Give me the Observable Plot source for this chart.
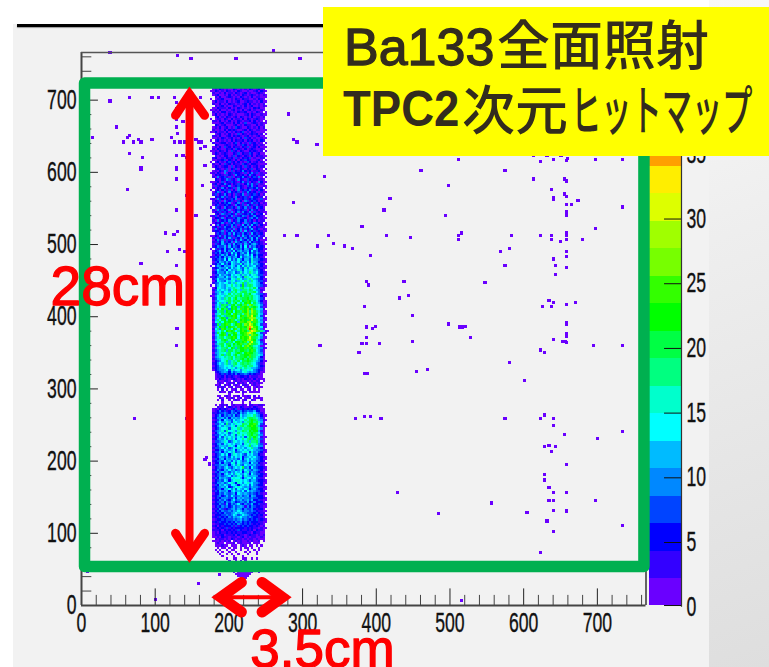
<!DOCTYPE html>
<html>
<head>
<meta charset="utf-8">
<script src="https://cdn.jsdelivr.net/npm/d3@7"></script>
<script src="https://cdn.jsdelivr.net/npm/@observablehq/plot@0.6"></script>
<style>
html,body{margin:0;padding:0;background:#fff;}
#page{position:relative;width:769px;height:667px;overflow:hidden;background:#fff;}
#panel{position:absolute;left:13px;top:24px;width:696px;height:643px;background:#f2f2f2;}
#side{position:absolute;left:709px;top:0;width:60px;height:667px;background:linear-gradient(160deg,#f8f8f8 0%,#eeeeee 35%,#dedede 100%);}
#rule{position:absolute;left:17px;top:24px;width:310px;height:3px;background:#000;box-shadow:0 1px 1px #999;}
#page svg{position:absolute;background:transparent;max-width:none;}
#title{position:absolute;left:323px;top:7px;width:446px;height:149px;background:#ffff00;color:#332c1e;}
#title span{position:absolute;white-space:nowrap;line-height:1;}
.lat{font-family:"Liberation Sans",sans-serif;font-size:52px;-webkit-text-stroke:1.3px #332c1e;}
.cjk{font-family:"Noto Sans CJK JP",sans-serif;font-size:53px;font-weight:500;}
</style>
</head>
<body>
<div id="page">
  <div id="panel"></div><div id="side"></div><div id="rule"></div>
  <div id="bar"></div><div id="main"></div>
  <div id="title">
    <span class="lat" style="left:20px;top:77px;font-size:50px;font-weight:bold;-webkit-text-stroke:0;transform:scaleX(0.91);transform-origin:left top;">TPC2</span>
    <span class="lat" style="left:21px;top:14px;">Ba133</span>
    <span class="cjk" style="left:174px;top:9px;">全面照射</span>
    <span class="cjk" style="left:139px;top:74px;">次元</span>
    <span class="cjk" style="left:248px;top:74px;font-size:54px;transform:scaleX(0.56);transform-origin:left top;">ヒットマップ</span>
  </div>
</div>
<script>
// Colour levels of the histogram (upper edge of each band, in hits per bin)
const levelEdges = [2.2,4.33,6.45,8.58,10.7,12.83,14.95,17.08,19.2,21.33,23.45,25.58,27.7,29.83,31.95,34.08,36.2,38.33];
const levelColors = ["#6a00ff","#3300ff","#0000ff","#0044ff","#0088ff","#00bbff","#00ffff","#00ffcc","#00ff80","#00ff44","#00ff00","#33ff00","#77ff00","#a0ff00","#ddff00","#ffee00","#ffa000","#ff3000","#ff0000"];

const xTicks = [0,100,200,300,400,500,600,700];
const yTicks = [0,100,200,300,400,500,600,700];
const xMinor = [20,40,60,80,120,140,160,180,220,240,260,280,320,340,360,380,420,440,460,480,520,540,560,580,620,640,660,680,720,740,760];
const yMinor = [20,40,60,80,120,140,160,180,220,240,260,280,320,340,360,380,420,440,460,480,520,540,560,580,620,640,660,680,720,740,760];
const barTicks = [5,10,15,20,25,30,35];

// Main band of the hit map. One string per row from the top, one character per
// column: the colour level of that bin (0 = empty).
const bandLeft = 175, bandTop = 717, binW = 3.1, binH = 3;
const bandRows = `
01213212113212121321231100
11321213212132112112313210
02112131221321231211232100
01231121312121321232121210
00213112321213212131221110
10122311121321322112132100
01312213121231123221213110
02113121322121231312121200
00212312113212131231121210
01132221312132121213231100
11213112123121312312112100
02121331212132231121321010
01312121321211123132112110
00231213212313212131221200
10122132131221313212321100
02213121312132122313121010
01112312213131241123212110
00321231112312132211312100
01213123121432113212131200
02112131323211231321221110
11312213121323412132111100
00123121312141321232312010
02213112313232123121231100
01121321231213142312112110
10231212131322313231213200
02112331213413121423121010
00321123212312431213212100
01213142313221324123131110
02132113231432131232112100
11213213142313211323212010
01321232113241322431231100
00212133124132132131322110
02311213231421323412112200
01122341321313243211231010
10231213423131214312312100
02113142313221432133211110
01321233141323142312312200
00232124132413213241321010
01213254141323532312231100
12132151324332141352412110
01323214321532313523112200
02152342141323532134251010
00321325423153214323312100
11231413243213524132153110
02312352313242135252412100
01423123512343214352311210
02132531324153213243522010
10231342413152343512313100
01354132532341425323142110
02413253131423514234231200
00323524231532342153322010
12152313243512342343214110
01324152342143154234312100
02231343512351423252431210
01342234321532415324132110
10423153243152352413523100
02152432512343241352312200
01324243151352532514232110
00231542432514234353123010
12413224351423541325332100
01332513224354231453522110
02152343513253352431312200
01323521435243154235432010
10253134253412635263413110
02314253351424352631322100
01523243425135243462341210
02332514362435162434232110
00243413526342534163423100
11325253414352643524352200
02413253641435253463622010
01352514243526435263531110
02243624351643452634232100
01423643526345264356432110
02354462635436372645323200
10424363472545365247533110
01346263547356456374532100
02435345274635647354642210
01324646354735467473533110
12435364645637456574632100
02345473746475366485543210
01436546476574657486532110
02354745376558467575643200
10465365576474758567443110
02346557475675485776532210
01475463756586476885643100
02365547567458576986743210
01447565476785867578644110
12356647586576498767853200
02475566478697568986543110
01376547687568798697644210
02457677586978a69887653100
10467658797685b69a97654210
01387657689879a8798a741100
02476768579a86998a97652100
01568577698a79aa899a751000
02467687a7989a7a9b87654210
11578769898a9b8aa9a8763110
02478698a79b89aab9a8764200
01567789a8a9a7bacb99753110
02479685a79b7a8bcb7a864110
01576a9a6ab8ab9c8dc9875210
025869a57bab6acbc9ab974110
016a7b9a5bab8cabdbda876200
02489a6bab7ba9cbd9ec985110
01687a9ab7cb9a8cdadca76210
0259a86aabcb7bcadcfb974100
01679ba59acb8cabcded886210
02697ab8bca79bcbacfca75110
0178a7babcab6ccbdeaca86200
024a6abca79bcb9dcfdb974110
0158bab6bca8cbabdhfcb87210
02795cb9a7bc8bcadicdb85100
01687a7bcba79bcb9dgeca9621
025a8ba69abc7bbcefdb874110
0167abc6b8bb8abcd9dcb86200
02589a79abcb7bcbcfca975110
01687aba8bb79acbdecb86210
024789a69a7bbabc8cfa874100
01589a7aa8b9bca9ceca975210
02468a79b8a9ab8cdba8761100
0158799a7ba6abbcacb9865210
024689a6aa8a9bba9bca764100
01568879a78aba8bcbb9865100
02468a69a79b8aabbca9876200
015687989a7a9aab9ca9763100
024567889a799ab9b9a8754100
0134578a6898a7aaba98653110
02357689689a79a9a987542100
013466787698789a8997643200
02345676787589798866542100
01345567486775887875432100
00234565364565786565431100
00123424343534454343221000
00122313232123323122211000
00113212123212132213121100
00021122101212112121220100
00012101212021210212121000
00112021201210221012110000
00021210120112012101211000
00010201011201101201010000
00002110210110210111110000
00000000100000100000000000
00011012101120112102010000
00002101121012011201121000
00010200101210120021001000
00000100010000100100000000
00101212012111210221122100
00021201321213211213211000
01213232123412323232321100
01235342354345345446331100
02234454354536457667542100
01346354546347568879653110
02355646365658679aa9864100
01246376547567798aba965210
02357568648768589ab9a86100
01446749576877a98bbca74200
02357586678489a8abcb962110
01346778487796899abba85100
02456849778588a98babb62100
01357678468797889aba974100
02446757578487979ab9a65100
01347486768576848a9b972110
02356575867477979a6a964100
01445687458767689699a62100
02356476767567487988954110
01346665876376678a68755100
02445757457686757796643100
01335476567367676876554210
02446365768456787485643110
01345757368767547675532100
02346546475767356767543210
01435636565647367576543110
02345475647576457566443200
01336365478476566375532110
02445656367585476656442100
01345467546767a56375433210
02354365756458476546543110
01435656465767368465432100
02345367575876576375443210
01345456746587486566533110
02436565478776367757442100
01345476367887676466433210
02355645786387578675543110
01436576477636767475433100
02345657346787656465542210
01345366758476576356433110
02436556367565747565443200
01335465456376565454342110
02345346475456456365333100
01343555446365655454433210
02335464357456456463342110
01344535465345546345333100
02335426354574354463342210
01343545346456525354332110
02235423456465354453233100
01343544546576455454322110
02234354456767654443432200
01333445457645765434323110
02324343546567554543322100
01233434445456454343423210
02324334343545343433322110
01223343434354343423232100
02313233342423434332321200
01232324232333323232212110
02223132323243223231322100
01213223232322332213221100
01222312223132212322121200
01121322122212312122112100
00212212132122121221211100
01112121201212112121120100
00121101112012111201110000
00111211011101210110101000
00010110101101011010010000
00101001011001001001010000
00010100100100010100100000
00001001010010001000100000
00000100001000100000000000
00000001001100110010100000
00000000100101010000000000
00000000011111111000000000
00000000011111111100000000
00000000011011111000000000
00000000001111111100000000
00000000001011111110010000
00000000000111111100000000
00000000000011111000000000
00000000000001110000000000
`.trim().split("\n");

// Isolated single hits
const strayX = [37,129,147,208,259,295,37,64,94,103,125,160,46,13,64,61,55,69,76,79,94,121,127,127,127,127,136,129,125,132,139,154,157,161,166,160,64,81,127,136,141,166,127,79,127,61,163,279,286,291,318,328,
79,127,127,163,61,141,127,154,112,129,124,131,138,115,79,127,128,127,70,141,168,166,172,157,7,99,186,514,
510,621,639,657,696,733,612,630,649,658,459,573,328,612,654,657,496,636,654,657,639,639,672,286,417,409,657,663,733,657,657,492,379,696,514,510,657,657,274,291,334,412,445,582,621,636,510,636,648,657,678,319,340,355,366,391,567,579,657,657,639,642,573,657,642,385,388,436,546,430,442,633,639,669,657,624,636,382,448,657,657,385,397,393,496,512,515,519,657,657,385,526,639,652,655,657,379,385,403,448,322,693,733,375,621,627,579,383,386,453,468,
600,370,382,391,405,573,627,621,639,639,654,733,699,633,627,642,636,657,627,627,633,639,657,427,633,639,696,555,639,657,603,483,630,733,639,621];
const strayY = [763,759,755,755,765,755,696,701,701,701,701,701,660,645,648,645,639,639,643,639,643,645,694,686,671,660,667,651,639,639,639,643,639,639,633,630,623,618,620,620,618,607,603,603,588,573,579,678,643,639,636,591,
601,601,589,579,573,565,545,537,513,515,511,490,487,487,471,468,381,357,256,256,202,199,193,28,44,5,40,4,
615,612,615,613,615,615,620,620,620,616,600,600,591,588,588,585,579,573,567,564,562,559,558,555,561,545,552,552,549,542,537,537,522,519,513,510,513,510,510,510,510,510,507,510,510,510,504,504,501,504,504,495,498,495,492,482,487,492,487,480,477,468,468,465,456,446,441,446,444,423,426,420,417,417,414,411,411,411,399,389,386,383,384,381,387,383,383,384,373,370,368,368,366,363,363,361,360,360,360,363,357,357,357,348,351,348,334,318,318,321,324,
309,256,259,259,256,256,261,256,256,246,234,238,228,219,217,217,210,192,178,171,160,154,154,154,142,142,142,139,129,128,126,124,114,108,100,70];

// Annotations: outline frame, red arrows and their lengths
const frameX = [4.1,763.2,763.2,4.1,4.1];
const frameY = [723.6,723.6,54,54,723.6];
const vArrowX = 146.6, vArrowTop = 723, vArrowBottom = 55, vBarbNear = 127.6, vBarbFar = 167, vBarbTop = 679, vBarbBottom = 100;
const hArrowY = 11.5, hArrowLeft = 171, hArrowRight = 290.5, hBarbLeft = 217, hBarbRight = 245, hBarbHigh = 32, hBarbLow = -9;
const annotations = [
  {text:"28cm", x:-42, y:440, size:55},
  {text:"3.5cm", x:229, y:-61, size:53}
];

const hitsFor = level => (level - 0.5) * 2.125;
const bandCells = bandRows.flatMap((row, r) => [...row].map((ch, c) => {
  const level = parseInt(ch, 36);
  return level ? {x: bandLeft + c * binW, y: bandTop - r * binH, hits: hitsFor(level)} : null;
}).filter(Boolean));
const strayCells = strayX.map((x, i) => ({x, y: strayY[i], hits: 1}));
const colorSpec = {type:"threshold", domain:levelEdges, range:levelColors};
const fontAxis = '"Liberation Sans Narrow","Liberation Sans",sans-serif';
const polyline = (xs, ys) => xs.map((x, i) => ({x, y: ys[i]}));
const barb = {x:"x", y:"y", stroke:"#ff0000", strokeLinecap:"round", strokeLinejoin:"miter", strokeMiterlimit:8};

const main = Plot.plot({
  width:769, height:667, marginLeft:81, marginRight:123.5, marginTop:52, marginBottom:62,
  style:{background:"transparent", overflow:"visible"},
  x:{domain:[0,766]}, y:{domain:[0,766]}, color:colorSpec,
  marks:[
    Plot.rect(bandCells,{x1:"x", x2:d=>d.x+binW, y1:d=>d.y-binH, y2:"y", fill:"hits", shapeRendering:"crispEdges"}),
    Plot.rect(strayCells,{x1:"x", x2:d=>d.x+4.5, y1:"y", y2:d=>d.y+4.5, fill:"hits", shapeRendering:"crispEdges"}),
    Plot.ruleX(xMinor,{x:d=>d, y1:0, y2:14, stroke:"#444", strokeWidth:1}),
    Plot.ruleX(xTicks.slice(1),{x:d=>d, y1:0, y2:23, stroke:"#222", strokeWidth:1}),
    Plot.ruleY(yMinor,{y:d=>d, x1:0, x2:14, stroke:"#444", strokeWidth:1}),
    Plot.ruleY(yTicks.slice(1),{y:d=>d, x1:0, x2:23, stroke:"#222", strokeWidth:1}),
    Plot.ruleY([0],{stroke:"#444", strokeWidth:2}),
    Plot.ruleX([0],{stroke:"#444", strokeWidth:2}),
    Plot.ruleY([766],{stroke:"#555", strokeWidth:1.5}),
    Plot.ruleX([766],{stroke:"#333", strokeWidth:1.5}),
    Plot.axisX({ticks:xTicks, tickSize:0, tickPadding:7, label:null, fontSize:27, fontFamily:fontAxis, fill:"#111", tickFormat:d=>String(d)}),
    Plot.axisY({ticks:yTicks, tickSize:0, tickPadding:5, label:null, fontSize:27, fontFamily:fontAxis, fill:"#111", tickFormat:d=>String(d)}),
    Plot.line(polyline(frameX,frameY),{x:"x", y:"y", stroke:"#00b050", strokeWidth:11.5, strokeLinejoin:"round", curve:"linear"}),
    Plot.line(polyline([vArrowX,vArrowX],[vArrowTop-15,vArrowBottom+15]),{x:"x", y:"y", stroke:"#ff0000", strokeWidth:8}),
    Plot.line(polyline([vBarbNear,vArrowX,vBarbFar],[vBarbTop,vArrowTop-15,vBarbTop]),{...barb, strokeWidth:9}),
    Plot.line(polyline([vBarbNear,vArrowX,vBarbFar],[vBarbBottom,vArrowBottom+15,vBarbBottom]),{...barb, strokeWidth:9}),
    Plot.line(polyline([hArrowLeft+18,hArrowRight-18],[hArrowY,hArrowY]),{x:"x", y:"y", stroke:"#ff0000", strokeWidth:4}),
    Plot.line(polyline([hBarbLeft,hArrowLeft+18,hBarbLeft],[hBarbHigh,hArrowY,hBarbLow]),{...barb, strokeWidth:11}),
    Plot.line(polyline([hBarbRight,hArrowRight-18,hBarbRight],[hBarbHigh,hArrowY,hBarbLow]),{...barb, strokeWidth:11}),
    Plot.text(annotations,{x:"x", y:"y", text:"text", textAnchor:"start", fill:"#ff0000", stroke:"#ff0000", strokeWidth:1.3, fontSize:d=>d.size, fontFamily:'"Liberation Sans",sans-serif'})
  ]
});
d3.select("#main").append(()=>main);

const barBands = levelColors.slice(0,17).map((c,i)=>({low:i?levelEdges[i-1]:0.13, high:levelEdges[i], hits:(i?levelEdges[i-1]:0)+1}));
const bar = Plot.plot({
  width:90, height:480, marginLeft:9, marginRight:49, marginTop:5, marginBottom:8.3,
  style:{background:"transparent", overflow:"visible", left:"640px", top:"135px"},
  x:{domain:[0,1], axis:null}, y:{domain:[0,36.07]}, color:colorSpec,
  marks:[
    Plot.rect(barBands,{x1:0, x2:1, y1:"low", y2:"high", fill:"hits", shapeRendering:"crispEdges"}),
    Plot.ruleX([1],{stroke:"#333", strokeWidth:1.2}),
    Plot.ruleY(barTicks,{y:d=>d, x1:0.47, x2:1, stroke:"#111", strokeWidth:1}),
    Plot.ruleY([0.13],{x1:0.47, x2:1, stroke:"#111", strokeWidth:1}),
    Plot.axisY({anchor:"right", ticks:[0,...barTicks], tickSize:0, tickPadding:5, label:null, fontSize:27, fontFamily:fontAxis, fill:"#111", tickFormat:d=>String(d)})
  ]
});
d3.select("#bar").append(()=>bar);

d3.selectAll('g[aria-label$="axis tick label"] text').each(function(){
  d3.select(this).attr("textLength", this.textContent.length*9.8).attr("lengthAdjust","spacingAndGlyphs").attr("stroke","#111").attr("stroke-width",0.35);
});
</script>
</body>
</html>
